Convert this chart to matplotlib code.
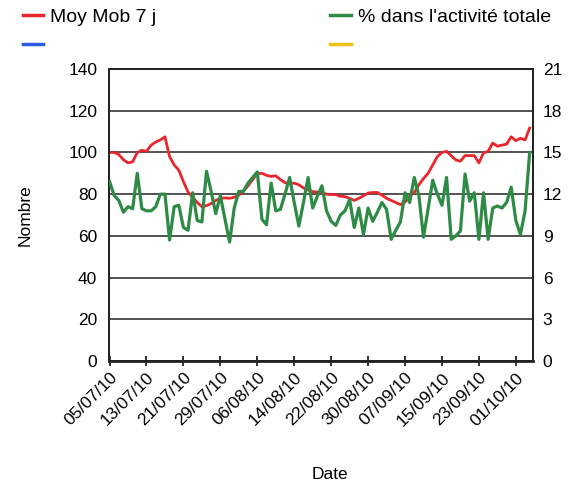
import numpy as np
import pandas as pd
import matplotlib.pyplot as plt
import matplotlib.dates as mdates
from matplotlib.lines import Line2D

plt.rcParams['font.family'] = ['Liberation Sans', 'DejaVu Sans']

# moyenne mobile 7 jours (axe gauche, nombre)
moy_mob = [100, 100, 99, 96.5, 95, 95.5, 100, 101, 100.5, 103.5,
           105, 106, 107.5, 98, 94, 91.5, 86, 81, 78.5, 76,
           74, 74.5, 75.5, 77, 78, 78.2, 78, 78.5, 79.5, 81.5,
           84, 87, 89.8, 90, 89, 88.5, 88.8, 87, 85.5, 85,
           85.3, 84.5, 83, 82, 81.2, 81, 80.8, 80, 79.8, 79.8,
           79, 78.8, 78, 77, 78, 79.2, 80.5, 80.8, 80.8, 79.5,
           78, 77, 76, 75, 76.2, 79, 80.8, 84.5, 87.5, 90,
           94, 98, 100, 100.5, 98.4, 96.4, 95.8, 98.5, 98.5, 98.5,
           95, 99.8, 100.5, 104.5, 103, 103.5, 104, 107.5, 105.6, 106.8,
           106, 111.7]
# % dans l'activite totale (axe droit)
part_pct = [12.9, 11.9, 11.55, 10.7, 11.1, 10.95, 13.5, 10.95, 10.8, 10.8,
            11.1, 12.0, 12.0, 8.7, 11.1, 11.2, 9.6, 9.4, 12.1, 10.1,
            10.0, 13.65, 12.2, 10.6, 11.9, 10.2, 8.55, 11.0, 12.2, 12.2,
            12.8, 13.2, 13.6, 10.2, 9.8, 12.8, 10.8, 10.9, 12.0, 13.2,
            11.4, 9.7, 11.4, 13.2, 11.0, 11.85, 12.6, 10.8, 10.05, 9.75,
            10.5, 10.8, 11.6, 9.6, 11.0, 9.1, 11.0, 10.05, 10.7, 11.4,
            10.9, 8.75, 9.4, 10.0, 12.1, 11.4, 13.2, 11.9, 8.9, 10.95,
            13.0, 12.0, 11.2, 13.2, 8.75, 9.0, 9.35, 13.45, 11.5, 12.1,
            8.75, 12.1, 8.75, 11.0, 11.15, 11.0, 11.4, 12.5, 10.1, 9.1,
            10.8, 15.0]

dates = pd.date_range('2010-07-05', periods=len(moy_mob), freq='D')

red = '#e8262d'
green = '#2e8b46'
blue = '#2d5be3'
yellow = '#efc21a'

fig = plt.figure(figsize=(5.76, 4.86), dpi=100)
ax = fig.add_axes([0.1892, 0.2572, 0.736, 0.6008])
ax2 = ax.twinx()

ax.plot(dates, moy_mob, color=red, linewidth=2.0, zorder=3)
ax2.plot(dates, part_pct, color=green, linewidth=2.3, zorder=3)

ax.set_ylim(0, 140)
ax.set_yticks(np.arange(0, 141, 20))
ax2.set_ylim(0, 21)
ax2.set_yticks(np.arange(0, 22, 3))
ax.set_xlim(dates[0] - pd.Timedelta(hours=3), dates[0] + pd.Timedelta(days=91.7))
ax.set_xticks(dates[::8])
ax.xaxis.set_major_formatter(mdates.DateFormatter('%d/%m/%y'))

ax.grid(axis='y', color='#444444', linewidth=1.3)
ax.set_axisbelow(True)

for a in (ax, ax2):
    for s in a.spines.values():
        s.set_color('#222222')
        s.set_linewidth(1.3)
ax.spines['bottom'].set_linewidth(2)

ax.tick_params(axis='y', length=0, pad=8.5, labelsize=12.5, colors='black')
ax2.tick_params(axis='y', length=0, pad=7, labelsize=12.5, colors='black')
ax.tick_params(axis='x', direction='inout', length=7, width=1.3, color='#222222',
               pad=3, labelsize=12.5)
for lab in ax.get_xticklabels():
    lab.set_rotation(45)
    lab.set_ha('right')
    lab.set_rotation_mode('anchor')

ax.set_ylabel('Nombre', fontsize=12.5)
ax.yaxis.set_label_coords(-0.179, 0.5)
ax.set_xlabel('Date', fontsize=12.5)
ax.xaxis.set_label_coords(0.521, -0.363)

h_red = Line2D([], [], color=red, linewidth=2.5)
h_blue = Line2D([], [], color=blue, linewidth=2.5)
h_green = Line2D([], [], color=green, linewidth=2.5)
h_yellow = Line2D([], [], color=yellow, linewidth=2.5)
leg_kw = dict(loc='upper left', frameon=False, fontsize=14, handlelength=1.06,
              handletextpad=0.36, labelspacing=0.6, borderpad=0, borderaxespad=0)
fig.legend([h_red, h_blue], ['Moy Mob 7 j', ''], bbox_to_anchor=(0.0396, 0.983), **leg_kw)
fig.legend([h_green, h_yellow], ["% dans l'activité totale", ''],
           bbox_to_anchor=(0.573, 0.983), **leg_kw)

fig.savefig('out.png', dpi=100)
